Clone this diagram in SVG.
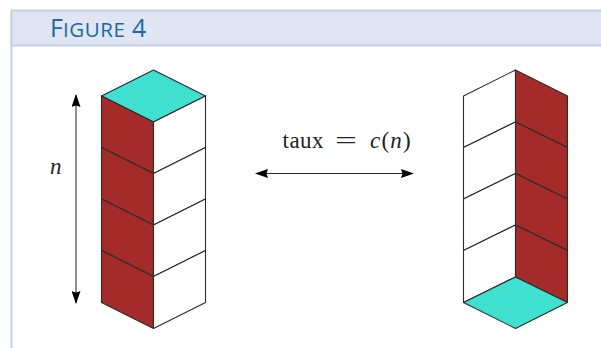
<svg xmlns="http://www.w3.org/2000/svg" width="601" height="348" viewBox="0 0 601 348">
<style>
.w{fill:#fff}.r{fill:#a52a2a}.t{fill:#40e0d0}
.e{stroke:#2b2b2b;stroke-width:1.1;stroke-linejoin:round}
.m{font-family:"Liberation Serif",serif;font-size:23px;fill:#222}
.a{stroke:#222;stroke-width:1;fill:none}
</style>
<defs>
<marker id="ah" viewBox="0 0 13 9" refX="12" refY="4.500" markerWidth="13" markerHeight="9" markerUnits="userSpaceOnUse" orient="auto-start-reverse"><path d="M0 0L13 4.500L0 9L1.500 4.500Z" fill="#000"/></marker>
</defs>
<g id="frame">
<rect x="10" y="10" width="591" height="36" fill="#dfe5f2"/>
<path d="M601 10.500H11.500V348M11.500 45.500H601" fill="none" stroke="#c6d2e8" stroke-width="2"/>
<text x="50" y="37" font-family="'Open Sans',sans-serif" fill="#1a6aa6"><tspan font-size="25">F</tspan><tspan font-size="20.500" letter-spacing="0.600">IGURE</tspan><tspan font-size="25"> 4</tspan></text>
</g>
<g id="stack-left">
<path class="t e" d="M101.500 96L153.500 70L205.500 96L153.500 122Z"/>
<path class="r e" d="M101.500 96L153.500 122V173.500L101.500 147.500Z"/>
<path class="r e" d="M101.500 147.500L153.500 173.500V225L101.500 199Z"/>
<path class="r e" d="M101.500 199L153.500 225V276.500L101.500 250.500Z"/>
<path class="r e" d="M101.500 250.500L153.500 276.500V328.500L101.500 302.500Z"/>
<path class="w e" d="M153.500 122L205.500 96V147.500L153.500 173.500Z"/>
<path class="w e" d="M153.500 173.500L205.500 147.500V199L153.500 225Z"/>
<path class="w e" d="M153.500 225L205.500 199V250.500L153.500 276.500Z"/>
<path class="w e" d="M153.500 276.500L205.500 250.500V302.500L153.500 328.500Z"/>
</g>
<g id="stack-right">
<path class="w e" d="M463.500 96L515.500 70V122L463.500 147.500Z"/>
<path class="w e" d="M463.500 147.500L515.500 122V173.500L463.500 199Z"/>
<path class="w e" d="M463.500 199L515.500 173.500V225L463.500 250.500Z"/>
<path class="w e" d="M463.500 250.500L515.500 225V277L463.500 302.500Z"/>
<path class="r e" d="M515.500 70L567.500 96V147.500L515.500 122Z"/>
<path class="r e" d="M515.500 122L567.500 147.500V199L515.500 173.500Z"/>
<path class="r e" d="M515.500 173.500L567.500 199V250.500L515.500 225Z"/>
<path class="r e" d="M515.500 225L567.500 250.500V302.500L515.500 277Z"/>
<path class="t e" d="M463.500 302.500L515.500 277L567.500 302.500L515.500 328.500Z"/>
</g>
<g id="connectors">
<line class="a" x1="76" y1="95" x2="76" y2="303" marker-start="url(#ah)" marker-end="url(#ah)"/>
<line class="a" x1="256" y1="173.500" x2="413" y2="173.500" marker-start="url(#ah)" marker-end="url(#ah)"/>
</g>
<g id="labels">
<text class="m" x="50" y="174" font-style="italic">n</text>
<text class="m" x="282.500" y="148" letter-spacing="0.500">taux</text>
<text class="m" x="335" y="148" textLength="22" lengthAdjust="spacingAndGlyphs">=</text>
<text class="m" x="370" y="148" letter-spacing="1.200"><tspan font-style="italic">c</tspan>(<tspan font-style="italic">n</tspan>)</text>
</g>
</svg>
